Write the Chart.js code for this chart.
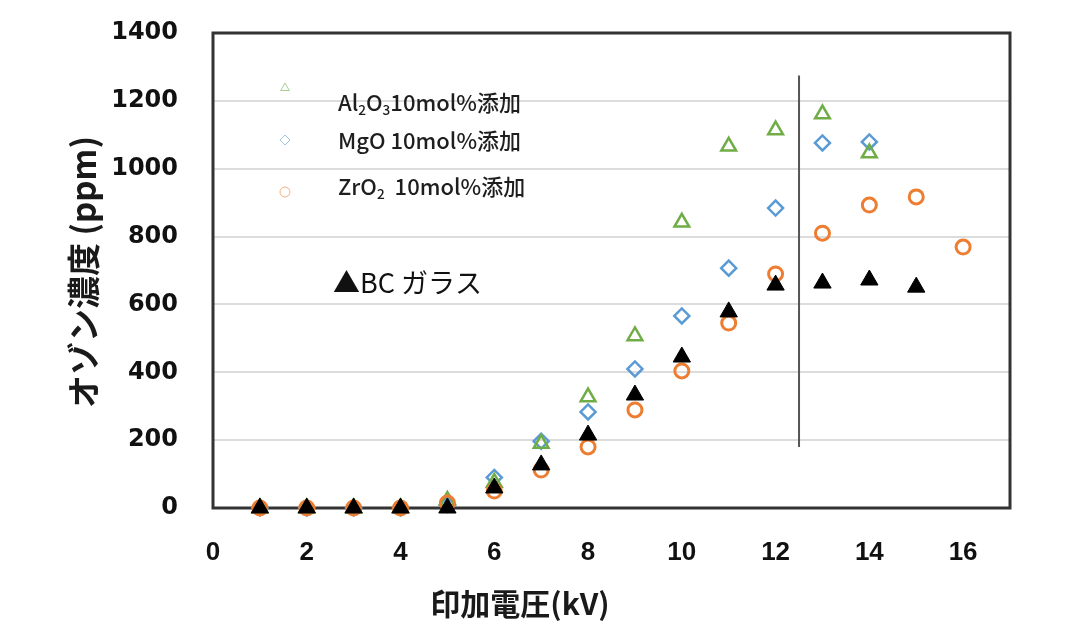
<!DOCTYPE html>
<html lang="ja">
<head>
<meta charset="utf-8">
<title>印加電圧とオゾン濃度</title>
<script src="https://cdn.jsdelivr.net/npm/chart.js@4.4.1/dist/chart.umd.min.js"></script>
<style>
  html, body { margin: 0; padding: 0; background: #fff; }
  #ozone-chart { display: block; }
</style>
</head>
<body>
<canvas id="ozone-chart" width="1072" height="631"></canvas>
<script>
'use strict';

// 印加電圧 (kV)
const voltages = [1, 2, 3, 4, 5, 6, 7, 8, 9, 10, 11, 12, 13, 14, 15, 16];

// オゾン濃度 (ppm), null = not measured
const al2o3Ppm = [0, 0, 0, 0, 22, 75, 190, 327, 507, 842, 1066, 1114, 1161, 1046, null, null];
const mgoPpm   = [0, 0, 0, 0, 10, 90, 197, 283, 410, 566, 707, 884, 1076, 1079, null, null];
const zro2Ppm  = [0, 0, 0, 0, 15, 50, 112, 180, 289, 404, 545, 690, 810, 893, 917, 769];
const bcPpm    = [0, 0, 0, 0, 0, 59, 127, 215, 333, 445, 578, 657, 663, 672, 651, null];

// vertical divider line
const dividerKv = [12.5, 12.5];
const dividerPpm = [180, 1275];

const xTicks = [0, 2, 4, 6, 8, 10, 12, 14, 16];
const yTicks = [0, 200, 400, 600, 800, 1000, 1200, 1400];

const GREEN = '#70ad47';
const BLUE = '#5b9bd5';
const ORANGE = '#ed7d31';

function toPoints(xs, ys) {
  return xs.map(function (x, i) {
    return { x: x, y: ys[i] };
  }).filter(function (p) {
    return p.y !== null;
  });
}

// draws text with subscript pieces, left aligned, middle baseline
function drawRich(ctx, parts, x, y, size, family) {
  let cx = x;
  parts.forEach(function (p) {
    const s = p.sub ? size * 0.62 : size;
    ctx.font = '500 ' + s + 'px ' + family;
    ctx.fillText(p.text, cx, p.sub ? y + size * 0.3 : y);
    cx += ctx.measureText(p.text).width;
  });
}

const legendRows = [
  { label: 'Al2O3', mark: [285, 88], textY: 103,
    parts: [{ text: 'Al' }, { text: '2', sub: true }, { text: 'O' }, { text: '3', sub: true }, { text: '10mol%添加' }] },
  { label: 'MgO', mark: [285, 140], textY: 141,
    parts: [{ text: 'MgO 10mol%添加' }] },
  { label: 'ZrO2', mark: [285, 192], textY: 187,
    parts: [{ text: 'ZrO' }, { text: '2', sub: true }, { text: '  10mol%添加' }] },
];

const notesPlugin = {
  id: 'notes',
  beforeDatasetsDraw: function (chart) {
    const ctx = chart.ctx;
    const a = chart.chartArea;
    ctx.save();
    ctx.lineWidth = 3;
    ctx.strokeStyle = '#333';
    ctx.strokeRect(a.left, a.top, a.right - a.left, a.bottom - a.top);
    ctx.restore();
  },
  afterDatasetsDraw: function (chart) {
    const ctx = chart.ctx;
    ctx.save();

    // legend marks and labels
    legendRows.forEach(function (row) {
      const ds = chart.data.datasets.find(function (d) { return d.label === row.label; });
      ctx.strokeStyle = ds.borderColor;
      ctx.fillStyle = 'rgba(0,0,0,0)';
      ctx.globalAlpha = 0.6;
      Chart.helpers.drawPoint(ctx, {
        pointStyle: ds.pointStyle,
        radius: 5,
        rotation: 0,
        borderWidth: 1.3,
      }, row.mark[0], row.mark[1]);
      ctx.globalAlpha = 1;
      ctx.fillStyle = '#1e1e1e';
      ctx.textAlign = 'left';
      ctx.textBaseline = 'middle';
      drawRich(ctx, row.parts, 338, row.textY, 22, '"Noto Sans CJK JP", sans-serif');
    });

    ctx.fillStyle = '#111';
    ctx.font = '27px "Noto Sans CJK JP", sans-serif';
    ctx.fillText('▲BC ガラス', 333, 283);

    // axis titles
    ctx.fillStyle = '#1a1a1a';
    ctx.textAlign = 'center';
    ctx.font = 'bold 30px "Noto Sans CJK JP", sans-serif';
    ctx.fillText('印加電圧(kV)', 520, 604);

    ctx.translate(83, 272);
    ctx.rotate(-Math.PI / 2);
    ctx.font = 'bold 33px "Noto Sans CJK JP", sans-serif';
    ctx.fillText('オゾン濃度 (ppm)', 0, 0);
    ctx.restore();
  },
};

const ctx = document.getElementById('ozone-chart').getContext('2d');
new Chart(ctx, {
  type: 'scatter',
  data: {
    datasets: [
      {
        label: 'BC',
        data: toPoints(voltages, bcPpm),
        pointStyle: 'triangle',
        pointRadius: 10,
        backgroundColor: '#000',
        borderColor: '#000',
        borderWidth: 1,
        clip: false,
      },
      {
        label: 'ZrO2',
        data: toPoints(voltages, zro2Ppm),
        pointStyle: 'circle',
        pointRadius: 7,
        backgroundColor: 'rgba(0,0,0,0)',
        borderColor: ORANGE,
        borderWidth: 3,
        clip: false,
      },
      {
        label: 'Al2O3',
        data: toPoints(voltages, al2o3Ppm),
        pointStyle: 'triangle',
        pointRadius: 8.5,
        backgroundColor: 'rgba(0,0,0,0)',
        borderColor: GREEN,
        borderWidth: 2.5,
        clip: false,
      },
      {
        label: 'MgO',
        data: toPoints(voltages, mgoPpm),
        pointStyle: 'rectRot',
        pointRadius: 7.5,
        backgroundColor: 'rgba(0,0,0,0)',
        borderColor: BLUE,
        borderWidth: 2.5,
        clip: false,
      },
      {
        label: 'divider',
        data: toPoints(dividerKv, dividerPpm),
        showLine: true,
        pointRadius: 0,
        borderColor: '#555',
        borderWidth: 2,
      },
    ],
  },
  options: {
    responsive: false,
    animation: false,
    events: [],
    layout: {
      padding: { left: 0, top: 33, right: 62, bottom: 0 },
    },
    plugins: {
      legend: { display: false },
      tooltip: { enabled: false },
    },
    scales: {
      x: {
        type: 'linear',
        min: 0,
        max: 17,
        grid: { display: false },
        border: { display: false },
        ticks: {
          padding: 21,
          color: '#111',
          font: { family: '"Liberation Sans Narrow", "Liberation Sans", sans-serif', size: 26, weight: 'bold' },
          callback: function (value) { return String(value); },
        },
        afterBuildTicks: function (scale) {
          scale.ticks = xTicks.map(function (v) { return { value: v }; });
        },
        afterFit: function (scale) {
          scale.height = 123;
        },
      },
      y: {
        type: 'linear',
        min: 0,
        max: 1400,
        grid: { color: '#dcdcdc', lineWidth: 2, drawTicks: false },
        border: { display: false },
        ticks: {
          padding: 35,
          color: '#111',
          font: { family: '"DejaVu Sans", sans-serif', size: 24, weight: 'bold' },
          callback: function (value) { return String(value); },
        },
        afterBuildTicks: function (scale) {
          scale.ticks = yTicks.map(function (v) { return { value: v }; });
        },
        afterFit: function (scale) {
          // fixed axis width; the layout padding alone sets the top edge
          scale.width = 213;
          scale.paddingTop = 0;
          scale.paddingBottom = 0;
        },
      },
    },
  },
  plugins: [notesPlugin],
});
</script>
</body>
</html>
